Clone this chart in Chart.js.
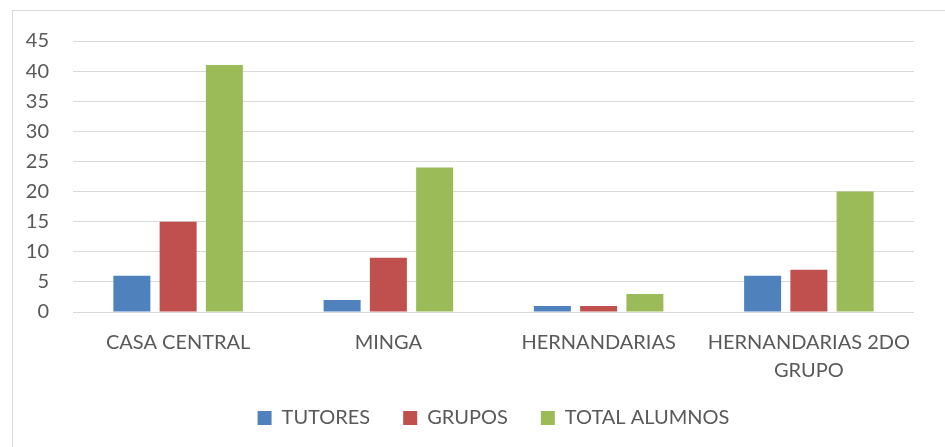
<!DOCTYPE html>
<html>
<head>
<meta charset="utf-8">
<script src="https://cdn.jsdelivr.net/npm/chart.js@4.4.0/dist/chart.umd.min.js"></script>
<style>
  html, body { margin: 0; padding: 0; background: #ffffff; overflow: hidden; }
  #frame { position: absolute; left: 12px; top: 10px; width: 1200px; height: 800px; border: 1px solid #d9d9d9; }
  #c { position: absolute; left: 0; top: 0; }
</style>
</head>
<body>
<div id="frame"></div>
<canvas id="c" width="945" height="447"></canvas>
<script>
const categories = ["CASA CENTRAL", "MINGA", "HERNANDARIAS", ["HERNANDARIAS 2DO", "GRUPO"]];
const seriesNames = ["TUTORES", "GRUPOS", "TOTAL ALUMNOS"];
const tutores = [6, 2, 1, 6];
const grupos = [15, 9, 1, 7];
const totalAlumnos = [41, 24, 3, 20];
const seriesColors = ["#4F81BD", "#C0504D", "#9BBB59"];
const yTicks = [0, 5, 10, 15, 20, 25, 30, 35, 40, 45];

const FONT = "Lato";
const TXT = "#595959";

const unclipX = {
  id: "unclipX",
  afterLayout(chart) { chart.scales.x.bottom = chart.height; }
};

new Chart(document.getElementById("c"), {
  type: "bar",
  data: {
    labels: categories,
    datasets: [tutores, grupos, totalAlumnos].map((d, i) => ({
      label: seriesNames[i],
      data: d,
      backgroundColor: seriesColors[i],
      borderWidth: 0,
      categoryPercentage: 0.66,
      barPercentage: 0.8
    }))
  },
  plugins: [unclipX],
  options: {
    responsive: false,
    animation: false,
    layout: { padding: { left: 0, right: 31, top: 41, bottom: 9 } },
    scales: {
      x: {
        grid: { display: false, drawTicks: false },
        border: { display: false },
        ticks: { color: TXT, font: { family: FONT, size: 20, lineHeight: 1.4 }, padding: 17, maxRotation: 0, autoSkip: false },
        afterFit: s => { s.height = 63; }
      },
      y: {
        min: 0, max: 45,
        afterBuildTicks: s => { s.ticks = yTicks.map(v => ({ value: v })); },
        grid: { color: "#d9d9d9", lineWidth: 1, drawTicks: false },
        border: { display: false },
        ticks: { color: TXT, font: { family: FONT, size: 20 }, padding: 24 },
        afterFit: s => { s.width = 73; }
      }
    },
    plugins: {
      tooltip: { enabled: false },
      legend: {
        position: "bottom",
        fullSize: false,
        labels: {
          color: TXT,
          font: { family: FONT, size: 20 },
          boxWidth: 14, boxHeight: 14,
          padding: 33
        }
      }
    }
  }
});
</script>
</body>
</html>
